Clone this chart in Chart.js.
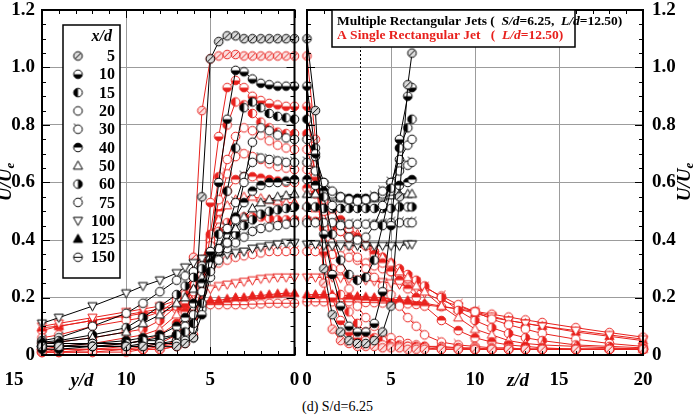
<!DOCTYPE html>
<html>
<head>
<meta charset="utf-8">
<script src="https://cdn.jsdelivr.net/npm/chart.js@4.4.1/dist/chart.umd.min.js"></script>
<style>
  html, body { margin: 0; padding: 0; background: #fff; }
  body { width: 694px; height: 420px; position: relative; overflow: hidden; font-family: "Liberation Serif", serif; }
  #leftChart { position: absolute; left: 0; top: 0; }
  #rightChart { position: absolute; left: 300px; top: 0; }
  #caption { position: absolute; left: 302px; top: 399px; font-size: 14px; color: #000; }
</style>
</head>
<body>
<canvas id="leftChart" width="300" height="395"></canvas>
<canvas id="rightChart" width="394" height="395"></canvas>
<div id="caption">(d) S/d=6.25</div>
<script>
// ===== DATA =====
const xdLabels = ['5', '10', '15', '20', '30', '40', '50', '60', '75', '100', '125', '150'];

// lateral positions
const yPos = [0, 0.5, 1, 1.5, 2, 2.5, 3, 3.5, 4, 4.5, 5, 5.5, 6, 6.5, 7, 8, 9, 10, 12, 14, 15];
const zPosMulti = [0, 0.5, 1, 1.5, 2, 2.5, 3, 3.5, 4, 4.5, 5, 5.5, 6, 6.25];
const zPosSingle = [0, 0.5, 1, 1.5, 2, 2.5, 3, 3.5, 4, 4.5, 5, 5.5, 6, 6.5, 7, 8, 9, 10, 11, 12, 13, 14, 16, 18, 20];

// multiple jets, U/Ue along y/d (x/d = 5 ... 100)
const multiY = [
  [1.10, 1.10, 1.10, 1.10, 1.10, 1.10, 1.10, 1.11, 1.11, 1.09, 1.03, 0.55, 0.06, 0.04, 0.03, 0.03, 0.03, 0.03, 0.03, 0.03, 0.03],
  [0.935, 0.935, 0.935, 0.94, 0.945, 0.96, 0.985, 0.99, 0.82, 0.60, 0.36, 0.14, 0.06, 0.05, 0.04, 0.04, 0.03, 0.03, 0.03, 0.02, 0.02],
  [0.82, 0.825, 0.83, 0.84, 0.86, 0.88, 0.86, 0.72, 0.57, 0.42, 0.29, 0.18, 0.11, 0.08, 0.07, 0.06, 0.05, 0.04, 0.03, 0.03, 0.03],
  [0.75, 0.755, 0.765, 0.78, 0.79, 0.74, 0.60, 0.47, 0.39, 0.33, 0.27, 0.16, 0.09, 0.06, 0.05, 0.04, 0.04, 0.03, 0.03, 0.03, 0.03],
  [0.67, 0.67, 0.675, 0.68, 0.685, 0.67, 0.62, 0.53, 0.44, 0.37, 0.31, 0.22, 0.14, 0.10, 0.07, 0.05, 0.05, 0.04, 0.04, 0.03, 0.03],
  [0.61, 0.605, 0.60, 0.60, 0.59, 0.57, 0.53, 0.48, 0.42, 0.37, 0.32, 0.25, 0.18, 0.13, 0.10, 0.07, 0.06, 0.05, 0.04, 0.04, 0.04],
  [0.56, 0.555, 0.55, 0.54, 0.53, 0.51, 0.48, 0.44, 0.40, 0.36, 0.32, 0.27, 0.23, 0.20, 0.18, 0.14, 0.11, 0.08, 0.06, 0.045, 0.04],
  [0.515, 0.51, 0.505, 0.50, 0.49, 0.47, 0.45, 0.42, 0.39, 0.36, 0.33, 0.30, 0.27, 0.24, 0.21, 0.17, 0.13, 0.095, 0.07, 0.05, 0.045],
  [0.46, 0.455, 0.45, 0.445, 0.44, 0.43, 0.41, 0.39, 0.37, 0.35, 0.33, 0.31, 0.29, 0.275, 0.26, 0.22, 0.18, 0.145, 0.10, 0.06, 0.05],
  [0.39, 0.39, 0.385, 0.38, 0.375, 0.37, 0.36, 0.355, 0.35, 0.35, 0.345, 0.335, 0.32, 0.305, 0.285, 0.26, 0.24, 0.215, 0.17, 0.13, 0.11]
];

// single jet, U/Ue along y/d (x/d = 5 ... 150)
const singleY = [
  [1.04, 1.04, 1.04, 1.04, 1.04, 1.04, 1.04, 1.045, 1.045, 1.04, 1.03, 0.85, 0.34, 0.06, 0.03, 0.02, 0.02, 0.01, 0.01, 0.01, 0.01],
  [0.865, 0.865, 0.87, 0.875, 0.885, 0.90, 0.93, 0.955, 0.93, 0.76, 0.53, 0.22, 0.07, 0.04, 0.03, 0.02, 0.02, 0.02, 0.01, 0.01, 0.01],
  [0.77, 0.77, 0.775, 0.79, 0.81, 0.84, 0.87, 0.88, 0.80, 0.62, 0.42, 0.22, 0.10, 0.06, 0.04, 0.03, 0.02, 0.02, 0.02, 0.01, 0.01],
  [0.715, 0.72, 0.73, 0.745, 0.765, 0.78, 0.79, 0.76, 0.68, 0.54, 0.38, 0.24, 0.13, 0.08, 0.05, 0.03, 0.03, 0.02, 0.02, 0.02, 0.01],
  [0.645, 0.65, 0.655, 0.665, 0.68, 0.69, 0.70, 0.69, 0.63, 0.52, 0.40, 0.28, 0.17, 0.11, 0.07, 0.04, 0.03, 0.03, 0.02, 0.02, 0.02],
  [0.60, 0.60, 0.605, 0.61, 0.615, 0.62, 0.62, 0.61, 0.57, 0.50, 0.41, 0.31, 0.22, 0.15, 0.11, 0.07, 0.05, 0.04, 0.03, 0.03, 0.02],
  [0.53, 0.53, 0.535, 0.54, 0.545, 0.55, 0.55, 0.54, 0.52, 0.47, 0.41, 0.33, 0.25, 0.19, 0.14, 0.09, 0.07, 0.06, 0.04, 0.03, 0.03],
  [0.47, 0.47, 0.47, 0.475, 0.48, 0.48, 0.48, 0.475, 0.46, 0.43, 0.39, 0.33, 0.27, 0.21, 0.17, 0.12, 0.09, 0.08, 0.06, 0.045, 0.04],
  [0.36, 0.36, 0.36, 0.36, 0.355, 0.35, 0.345, 0.34, 0.33, 0.32, 0.30, 0.28, 0.25, 0.22, 0.19, 0.15, 0.13, 0.12, 0.10, 0.07, 0.06],
  [0.27, 0.27, 0.27, 0.268, 0.265, 0.26, 0.255, 0.25, 0.245, 0.24, 0.23, 0.22, 0.21, 0.20, 0.19, 0.17, 0.16, 0.15, 0.13, 0.11, 0.10],
  [0.215, 0.215, 0.213, 0.21, 0.207, 0.205, 0.20, 0.20, 0.195, 0.19, 0.19, 0.185, 0.18, 0.175, 0.17, 0.16, 0.15, 0.14, 0.12, 0.10, 0.095],
  [0.18, 0.18, 0.18, 0.18, 0.178, 0.177, 0.175, 0.175, 0.175, 0.175, 0.175, 0.17, 0.17, 0.165, 0.16, 0.15, 0.145, 0.135, 0.12, 0.10, 0.085]
];

// multiple jets, U/Ue along z/d (x/d = 5 ... 100)
const multiZ = [
  [1.10, 0.85, 0.30, 0.14, 0.08, 0.05, 0.04, 0.04, 0.05, 0.08, 0.17, 0.55, 0.94, 1.05],
  [0.935, 0.70, 0.42, 0.28, 0.17, 0.10, 0.08, 0.08, 0.11, 0.22, 0.45, 0.75, 0.90, 0.93],
  [0.82, 0.72, 0.55, 0.42, 0.33, 0.28, 0.26, 0.27, 0.33, 0.45, 0.58, 0.72, 0.79, 0.82],
  [0.75, 0.69, 0.60, 0.52, 0.45, 0.41, 0.40, 0.41, 0.45, 0.52, 0.60, 0.68, 0.73, 0.75],
  [0.67, 0.64, 0.60, 0.57, 0.55, 0.54, 0.535, 0.54, 0.55, 0.57, 0.60, 0.64, 0.66, 0.67],
  [0.61, 0.59, 0.57, 0.56, 0.55, 0.545, 0.545, 0.545, 0.55, 0.56, 0.57, 0.59, 0.60, 0.61],
  [0.56, 0.56, 0.555, 0.55, 0.545, 0.54, 0.54, 0.54, 0.545, 0.55, 0.555, 0.56, 0.56, 0.56],
  [0.515, 0.515, 0.51, 0.51, 0.51, 0.51, 0.51, 0.51, 0.51, 0.51, 0.51, 0.515, 0.515, 0.515],
  [0.46, 0.46, 0.46, 0.46, 0.455, 0.455, 0.455, 0.455, 0.455, 0.455, 0.46, 0.46, 0.46, 0.46],
  [0.385, 0.385, 0.38, 0.38, 0.38, 0.38, 0.38, 0.38, 0.38, 0.38, 0.38, 0.38, 0.385, 0.385]
];

// single jet, U/Ue along z/d (x/d = 5 ... 150)
const singleZ = [
  [1.04, 0.75, 0.25, 0.09, 0.05, 0.04, 0.03, 0.03, 0.03, 0.025, 0.025, 0.025, 0.02, 0.02, 0.02, 0.02, 0.02, 0.02, 0.02, 0.02, 0.02, 0.02, 0.02, 0.02, 0.02],
  [0.865, 0.62, 0.36, 0.20, 0.12, 0.08, 0.06, 0.05, 0.04, 0.035, 0.03, 0.03, 0.03, 0.025, 0.025, 0.02, 0.02, 0.02, 0.02, 0.02, 0.02, 0.02, 0.02, 0.02, 0.02],
  [0.77, 0.63, 0.44, 0.30, 0.21, 0.15, 0.11, 0.08, 0.06, 0.05, 0.04, 0.035, 0.03, 0.03, 0.03, 0.025, 0.025, 0.02, 0.02, 0.02, 0.02, 0.02, 0.02, 0.02, 0.02],
  [0.715, 0.62, 0.50, 0.39, 0.30, 0.23, 0.17, 0.13, 0.10, 0.075, 0.06, 0.05, 0.04, 0.035, 0.03, 0.03, 0.025, 0.025, 0.02, 0.02, 0.02, 0.02, 0.02, 0.02, 0.02],
  [0.645, 0.60, 0.54, 0.48, 0.43, 0.38, 0.34, 0.30, 0.27, 0.24, 0.21, 0.17, 0.13, 0.10, 0.07, 0.045, 0.035, 0.03, 0.025, 0.025, 0.02, 0.02, 0.02, 0.02, 0.02],
  [0.58, 0.56, 0.53, 0.50, 0.47, 0.44, 0.41, 0.38, 0.35, 0.32, 0.29, 0.26, 0.23, 0.20, 0.17, 0.12, 0.085, 0.06, 0.045, 0.035, 0.03, 0.025, 0.02, 0.02, 0.02],
  [0.52, 0.51, 0.50, 0.48, 0.46, 0.44, 0.42, 0.39, 0.37, 0.34, 0.32, 0.29, 0.27, 0.24, 0.22, 0.17, 0.13, 0.09, 0.07, 0.05, 0.04, 0.035, 0.03, 0.025, 0.02],
  [0.47, 0.465, 0.455, 0.445, 0.43, 0.415, 0.40, 0.38, 0.36, 0.34, 0.32, 0.30, 0.28, 0.26, 0.24, 0.20, 0.155, 0.12, 0.095, 0.075, 0.06, 0.05, 0.035, 0.03, 0.025],
  [0.36, 0.36, 0.355, 0.35, 0.345, 0.34, 0.33, 0.32, 0.31, 0.30, 0.29, 0.28, 0.265, 0.25, 0.235, 0.205, 0.175, 0.15, 0.125, 0.105, 0.09, 0.075, 0.055, 0.04, 0.03],
  [0.27, 0.27, 0.27, 0.27, 0.268, 0.265, 0.262, 0.26, 0.257, 0.254, 0.25, 0.245, 0.24, 0.23, 0.215, 0.19, 0.17, 0.15, 0.135, 0.12, 0.11, 0.10, 0.085, 0.07, 0.055],
  [0.21, 0.21, 0.21, 0.21, 0.208, 0.206, 0.204, 0.202, 0.20, 0.198, 0.195, 0.192, 0.19, 0.185, 0.18, 0.17, 0.16, 0.145, 0.13, 0.12, 0.11, 0.10, 0.08, 0.065, 0.05],
  [0.185, 0.185, 0.185, 0.185, 0.185, 0.185, 0.184, 0.183, 0.182, 0.181, 0.18, 0.179, 0.178, 0.176, 0.174, 0.168, 0.16, 0.152, 0.142, 0.132, 0.122, 0.113, 0.095, 0.078, 0.062]
];

const yTicks = [0, 0.2, 0.4, 0.6, 0.8, 1.0, 1.2];

// ===== STYLE =====
const BLACK = '#000000';
const RED = '#e8211d';
const GRID = '#9c9c9c';
const SERIF = '"Liberation Serif", "Times New Roman", serif';
const markerKinds = ['slash', 'bottom', 'left', 'open', 'tailL', 'top', 'triUp', 'right', 'tailR', 'triDown', 'triFill', 'hline'];

Chart.defaults.font.family = SERIF;

// ===== MARKERS =====
function makeMarker(kind, color) {
  const c = document.createElement('canvas');
  c.width = 13; c.height = 13;
  const g = c.getContext('2d');
  const cx = 6.5, cy = 6.5, r = 4.3;
  g.lineWidth = 1;
  g.strokeStyle = color;
  g.fillStyle = color;

  if (kind.startsWith('tri')) {
    const dir = kind === 'triDown' ? -1 : 1;
    g.beginPath();
    g.moveTo(cx, cy - 4.8 * dir);
    g.lineTo(cx + 4.6, cy + 3.4 * dir);
    g.lineTo(cx - 4.6, cy + 3.4 * dir);
    g.closePath();
    g.fillStyle = kind === 'triFill' ? color : '#fff';
    g.fill();
    g.stroke();
    return c;
  }

  g.beginPath();
  g.arc(cx, cy, r, 0, Math.PI * 2);
  g.fillStyle = kind === 'slash' ? (color === BLACK ? '#dcdcdc' : '#fbe0e0') : '#fff';
  g.fill();
  g.fillStyle = color;

  const half = { bottom: [0, Math.PI], top: [Math.PI, Math.PI * 2], left: [Math.PI / 2, Math.PI * 1.5], right: [-Math.PI / 2, Math.PI / 2] }[kind];
  if (half) {
    g.beginPath();
    g.arc(cx, cy, r, half[0], half[1]);
    g.closePath();
    g.fill();
  }
  g.beginPath();
  if (kind === 'slash') {
    g.moveTo(cx - r * 0.72, cy + r * 0.72);
    g.lineTo(cx + r * 0.72, cy - r * 0.72);
  } else if (kind === 'hline') {
    g.moveTo(cx - r, cy);
    g.lineTo(cx + r, cy);
  } else if (kind === 'tailL') {
    g.moveTo(cx - r * 0.5, cy - r * 0.87);
    g.lineTo(cx - r * 0.5 - 2, cy - r * 0.87 - 1.8);
  } else if (kind === 'tailR') {
    g.moveTo(cx + r * 0.5, cy - r * 0.87);
    g.lineTo(cx + r * 0.5 + 2, cy - r * 0.87 - 1.8);
  }
  g.stroke();
  g.beginPath();
  g.arc(cx, cy, r, 0, Math.PI * 2);
  g.stroke();
  return c;
}

const blackMarkers = markerKinds.map(k => makeMarker(k, BLACK));
const redMarkers = markerKinds.map(k => makeMarker(k, RED));

// ===== DATASETS =====
function buildSets(pos, profiles, color, markers, tag) {
  return profiles.map((vals, i) => ({
    label: tag + ' x/d=' + xdLabels[i],
    data: vals.map((v, j) => ({ x: pos[j], y: v })),
    borderColor: color,
    backgroundColor: color,
    borderWidth: 1,
    pointStyle: markers[i],
    pointRadius: 4.5,
    tension: 0,
    clip: false
  }));
}

// ===== DRAW HELPERS =====
function drawFrame(chart) {
  const { ctx, chartArea: a, scales: { x, y } } = chart;
  ctx.save();
  ctx.strokeStyle = BLACK;
  ctx.lineWidth = 1;
  ctx.beginPath();
  for (let i = 0; i <= 24; i++) {
    const py = Math.round(y.getPixelForValue(i * 0.05)) + 0.5;
    const len = i % 4 === 0 ? 8 : 4;
    ctx.moveTo(a.left, py); ctx.lineTo(a.left + len, py);
    ctx.moveTo(a.right, py); ctx.lineTo(a.right - len, py);
  }
  for (let v = x.min; v <= x.max; v++) {
    const px = Math.round(x.getPixelForValue(v)) + 0.5;
    const len = v % 5 === 0 ? 8 : 4;
    ctx.moveTo(px, a.top); ctx.lineTo(px, a.top + len);
    ctx.moveTo(px, a.bottom); ctx.lineTo(px, a.bottom - len);
  }
  ctx.stroke();
  ctx.lineWidth = 2;
  ctx.strokeRect(a.left, a.top, a.right - a.left, a.bottom - a.top);
  ctx.restore();
}

function drawRich(ctx, parts, x, y, size, color) {
  let cx = x;
  parts.forEach(([txt, italic]) => {
    ctx.font = (italic ? 'italic ' : '') + 'bold ' + size + 'px ' + SERIF;
    ctx.fillStyle = color;
    ctx.fillText(txt, cx, y);
    cx += ctx.measureText(txt).width;
  });
}

function drawUUe(ctx, cx, cy) {
  ctx.save();
  ctx.translate(cx, cy);
  ctx.rotate(-Math.PI / 2);
  ctx.fillStyle = BLACK;
  ctx.textBaseline = 'middle';
  ctx.font = 'italic bold 19px ' + SERIF;
  const w1 = ctx.measureText('U/U').width;
  ctx.font = 'italic bold 13px ' + SERIF;
  const w2 = ctx.measureText('e').width;
  const sx = -(w1 + w2) / 2;
  ctx.font = 'italic bold 19px ' + SERIF;
  ctx.fillText('U/U', sx, 0);
  ctx.font = 'italic bold 13px ' + SERIF;
  ctx.fillText('e', sx + w1, 5);
  ctx.restore();
}

function plainText(ctx, text, cx, cy, font) {
  ctx.save();
  ctx.font = font;
  ctx.fillStyle = BLACK;
  ctx.textAlign = 'center';
  ctx.textBaseline = 'middle';
  ctx.fillText(text, cx, cy);
  ctx.restore();
}

// scale boxes are fixed so the plot frame lands where it does in the figure
function fixBox(s, w, h) {
  if (w !== null) s.width = w;
  if (h !== null) s.height = h;
  s.paddingLeft = 0; s.paddingRight = 0; s.paddingTop = 0; s.paddingBottom = 0;
}

// ===== COMMON OPTIONS =====
function scaleOpts(min, max, reverse, yWidth, yPosition, hideX) {
  return {
    x: {
      type: 'linear', min, max, reverse,
      afterFit: s => fixBox(s, null, 40),
      ticks: {
        stepSize: 5, padding: 14, color: BLACK,
        font: { family: SERIF, weight: 'bold', size: 19 },
        callback: v => v === hideX ? '' : String(v)
      },
      grid: { color: GRID, lineWidth: 1, drawTicks: false },
      border: { display: false }
    },
    y: {
      type: 'linear', min: 0, max: 1.2, position: yPosition,
      afterFit: s => fixBox(s, yWidth, null),
      afterBuildTicks: s => { s.ticks = yTicks.map(v => ({ value: v })); },
      ticks: {
        padding: yPosition === 'left' ? 7 : 9,
        color: BLACK,
        font: { family: SERIF, weight: 'bold', size: 19 },
        callback: v => v === 0 ? '0' : v.toFixed(1)
      },
      grid: { color: GRID, lineWidth: 1, drawTicks: false },
      border: { display: false }
    }
  };
}

// ===== LEFT PANEL (y/d) =====
new Chart(document.getElementById('leftChart'), {
  type: 'line',
  data: {
    datasets: [
      ...buildSets(yPos, multiY, BLACK, blackMarkers, 'multiple'),
      ...buildSets(yPos, singleY, RED, redMarkers, 'single')
    ]
  },
  options: {
    responsive: false,
    animation: false,
    events: [],
    layout: { padding: { top: 10, right: 5, left: 0, bottom: 0 } },
    plugins: { legend: { display: false }, tooltip: { enabled: false } },
    scales: scaleOpts(0, 15, true, 42, 'left', 15)
  },
  plugins: [{
    id: 'leftDecor',
    afterDatasetsDraw(chart) {
      drawFrame(chart);
      const ctx = chart.ctx;
      // x/d legend
      ctx.save();
      ctx.fillStyle = '#fff';
      ctx.fillRect(63, 25, 57, 253);
      ctx.strokeStyle = BLACK;
      ctx.lineWidth = 1.5;
      ctx.strokeRect(63, 25, 57, 253);
      ctx.textBaseline = 'middle';
      ctx.textAlign = 'right';
      ctx.font = 'italic bold 16px ' + SERIF;
      ctx.fillStyle = BLACK;
      ctx.fillText('x/d', 112, 37);
      ctx.font = 'bold 16px ' + SERIF;
      xdLabels.forEach((lab, i) => {
        const cy = 56 + i * 18.3;
        const m = blackMarkers[i];
        ctx.drawImage(m, 78 - m.width / 2, cy - m.height / 2);
        ctx.fillText(lab, 115, cy + 1);
      });
      ctx.restore();
    },
    afterDraw(chart) {
      const ctx = chart.ctx;
      drawUUe(ctx, 6, 182);
      plainText(ctx, 'y/d', 82, 381, 'italic bold 19px ' + SERIF);
      // the "15" label sits left of its tick in the figure
      plainText(ctx, '15', 14, 380, 'bold 19px ' + SERIF);
    }
  }]
});

// ===== RIGHT PANEL (z/d) =====
new Chart(document.getElementById('rightChart'), {
  type: 'line',
  data: {
    datasets: [
      ...buildSets(zPosMulti, multiZ, BLACK, blackMarkers, 'multiple'),
      ...buildSets(zPosSingle, singleZ, RED, redMarkers, 'single')
    ]
  },
  options: {
    responsive: false,
    animation: false,
    events: [],
    layout: { padding: { top: 10, right: 0, left: 7, bottom: 0 } },
    plugins: { legend: { display: false }, tooltip: { enabled: false } },
    scales: scaleOpts(0, 20, false, 51, 'right', null)
  },
  plugins: [{
    id: 'rightDecor',
    beforeDatasetsDraw(chart) {
      const { ctx, chartArea: a, scales: { x } } = chart;
      const px = Math.round(x.getPixelForValue(3.125)) + 0.5;
      ctx.save();
      ctx.strokeStyle = BLACK;
      ctx.lineWidth = 1;
      ctx.setLineDash([2, 2]);
      ctx.beginPath();
      ctx.moveTo(px, a.top);
      ctx.lineTo(px, a.bottom);
      ctx.stroke();
      ctx.restore();
    },
    afterDatasetsDraw(chart) {
      drawFrame(chart);
      const ctx = chart.ctx;
      ctx.save();
      ctx.fillStyle = '#fff';
      ctx.fillRect(32, 10, 243, 37);
      ctx.strokeStyle = BLACK;
      ctx.lineWidth = 1.5;
      ctx.strokeRect(32, 10, 243, 37);
      ctx.textBaseline = 'middle';
      drawRich(ctx, [['Multiple Rectangular Jets (  ', false], ['S/d', true], ['=6.25,  ', false], ['L/d', true], ['=12.50)', false]], 37, 22, 13.5, BLACK);
      drawRich(ctx, [['A Single Rectangular Jet   (  ', false], ['L/d', true], ['=12.50)', false]], 37, 36, 13.5, RED);
      ctx.restore();
    },
    afterDraw(chart) {
      drawUUe(chart.ctx, 385, 182);
      plainText(chart.ctx, 'z/d', 218, 381, 'italic bold 19px ' + SERIF);
    }
  }]
});
</script>
</body>
</html>
